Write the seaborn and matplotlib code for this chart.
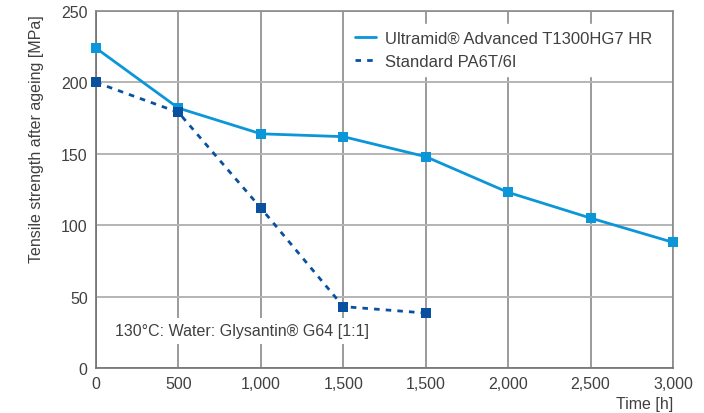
import matplotlib
matplotlib.use("Agg")
import matplotlib.pyplot as plt
import seaborn as sns

# ---- data ----
tick_labels = ["0", "500", "1,000", "1,500", "1,500", "2,000", "2,500", "3,000"]
ultramid_pos = [0, 1, 2, 3, 4, 5, 6, 7]
ultramid_vals = [224, 182, 164, 162, 148, 123, 105, 88]
standard_pos = [0, 1, 2, 3, 4]
standard_vals = [200, 179, 112, 43, 38.5]
series_names = ["Ultramid\u00ae Advanced T1300HG7 HR", "Standard PA6T/6I"]
y_ticks = [0, 50, 100, 150, 200, 250]
note = "130\u00b0C: Water: Glysantin\u00ae G64 [1:1]"

sns.set_style("white")
plt.rcParams["font.family"] = ["Liberation Sans", "DejaVu Sans"]
TXT = "#404040"
FS = 11.5

fig = plt.figure(figsize=(7.04, 4.14), dpi=100)
ax = fig.add_axes([96/704, 1-369/414, (673-96)/704, (369-12)/414])

c1 = "#0a96d8"
c2 = "#0a50a0"

sns.lineplot(x=ultramid_pos, y=ultramid_vals, ax=ax, color=c1, lw=2, marker="s",
             markersize=7, markeredgewidth=0, label=series_names[0], zorder=4,
             clip_on=False)
sns.lineplot(x=standard_pos, y=standard_vals, ax=ax, color=c2, lw=2, marker="s",
             markersize=7, markeredgewidth=0, label=series_names[1], zorder=5,
             linestyle=(0, (2, 2.2)), clip_on=False)

ax.set_xlim(0, 7)
ax.set_ylim(0, 250)
ax.set_xticks(range(len(tick_labels)))
ax.set_xticklabels(tick_labels)
ax.set_yticks(y_ticks)

ax.grid(axis="x", color="#8a8a8a", lw=1.2, zorder=0)
ax.grid(axis="y", color="#b4b4b4", lw=1.4, zorder=0)
ax.set_axisbelow(True)
for s in ["left", "bottom"]:
    ax.spines[s].set_color("#707070")
    ax.spines[s].set_linewidth(1.2)
for s in ["top", "right"]:
    ax.spines[s].set_color("#8a8a8a")
    ax.spines[s].set_linewidth(1.2)
ax.tick_params(axis="both", length=4, width=1, color="#707070", labelsize=FS,
               labelcolor=TXT, pad=2)
ax.set_xlabel("")
ax.set_ylabel("")

fig.text(37/704, 1-15/414, "Tensile strength after ageing [MPa]", rotation=90,
         ha="center", va="top", fontsize=FS, color=TXT)
fig.text(673/704, 1-405/414, "Time [h]", ha="right", va="center", fontsize=FS, color=TXT)

fig.text(115/704, 1-332/414, note, fontsize=FS, color=TXT, va="center", ha="left",
         zorder=6, bbox=dict(facecolor="white", edgecolor="none", pad=4))

leg = ax.legend(loc="upper left", bbox_to_anchor=((340-96)/577, 1-(17-12)/357),
                frameon=True, fontsize=FS + 0.5, handlelength=1.25, handletextpad=0.55,
                borderpad=0.4, labelspacing=0.5, fancybox=False)
leg.get_frame().set_edgecolor("white")
leg.get_frame().set_facecolor("white")
leg.get_frame().set_alpha(1)
for h in leg.legend_handles:
    h.set_marker("")
for t in leg.get_texts():
    t.set_color(TXT)

fig.savefig("out.png", dpi=100)
